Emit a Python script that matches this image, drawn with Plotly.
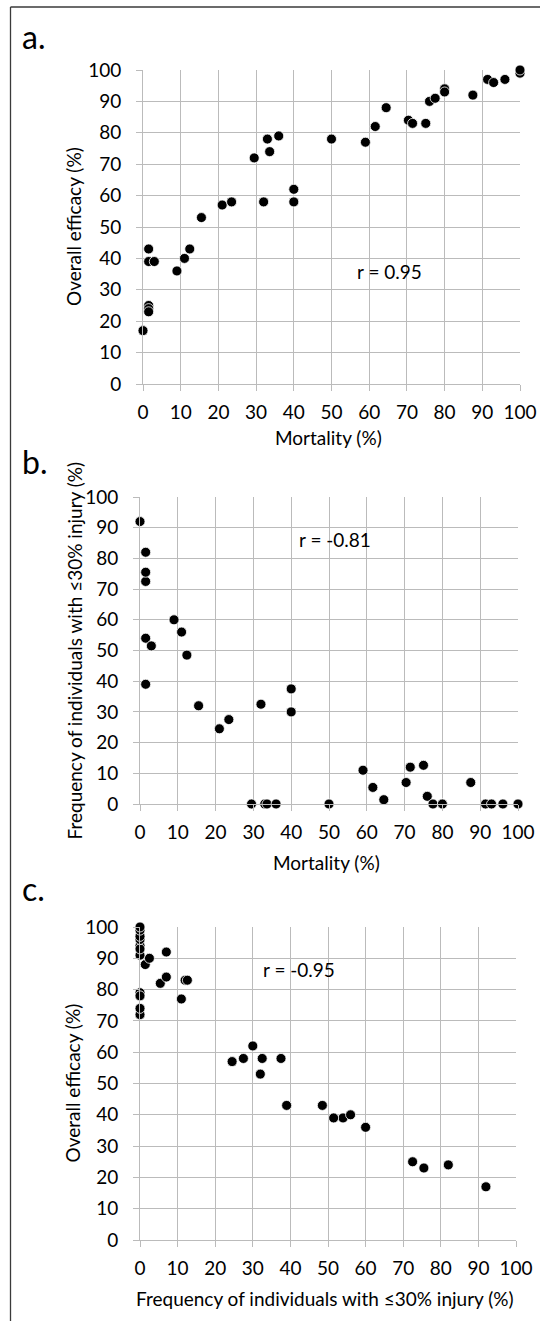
import plotly.graph_objects as go

# Data
mortality = [0, 1.5, 1.5, 3, 1.5, 1.5, 1.5, 9, 11, 12.4, 15.5, 21, 23.5, 29.5, 32, 33, 33.6, 36,
             40, 40, 50, 59, 61.6, 64.5, 70.4, 71.5, 75, 76, 77.5, 80, 80, 87.5, 91.4, 93, 96, 100, 100]
efficacy = [17, 43, 39, 39, 25, 24, 23, 36, 40, 43, 53, 57, 58, 72, 58, 78, 74, 79,
            62, 58, 78, 77, 82, 88, 84, 83, 83, 90, 91, 94, 93, 92, 97, 96, 97, 99, 100]
low_injury = [92, 39, 54, 51.5, 72.5, 82, 75.5, 60, 56, 48.5, 32, 24.5, 27.5, 0, 32.5, 0, 0, 0,
              30, 37.5, 0, 11, 5.4, 1.4, 7, 12, 12.6, 2.5, 0, 0, 0, 7, 0, 0, 0, 0, 0]

tick_vals = [0, 10, 20, 30, 40, 50, 60, 70, 80, 90, 100]
tick_text = [str(v) for v in tick_vals]

r_labels = ["r = 0.95", "r = -0.81", "r = -0.95"]
panel_labels = ["a.", "b.", "c."]
x_titles = ["Mortality (%)", "Mortality (%)", "Frequency of individuals with \u226430% injury (%)"]
y_titles = ["Overall efficacy (%)", "Frequency of individuals with \u226430% injury (%)", "Overall efficacy (%)"]

W, H = 540, 1321
FONT = "Lato"
FS = 19
GRID = "#BBBBBB"

def px_x(p):
    return p / W

def px_y(p):
    return 1 - p / H

# panel pixel boxes: (x0, x1, ytop, ybottom)
boxes = [(143, 520, 70, 384), (140, 518, 497, 804), (140, 516, 927, 1240)]
xtitle_off = [54, 59, 58]
ytitle_x = [73, 74, 72]
label_y = [36, 461, 888]
r_pos = [(65.3, 35.7), (51.6, 86), (42.3, 86.3)]

fig = go.Figure()
series = [(mortality, efficacy), (mortality, low_injury), (low_injury, efficacy)]
for i, (xs, ys) in enumerate(series):
    sfx = "" if i == 0 else str(i + 1)
    fig.add_trace(go.Scatter(
        x=xs, y=ys, mode="markers", xaxis="x" + sfx, yaxis="y" + sfx,
        marker=dict(color="black", size=10, line=dict(color="white", width=0.8)),
        cliponaxis=False, showlegend=False, hoverinfo="x+y"))

layout = dict(
    width=W, height=H, margin=dict(l=0, r=0, t=0, b=0),
    paper_bgcolor="white", plot_bgcolor="white",
    font=dict(family=FONT, size=FS, color="black"),
    showlegend=False,
)

axis_common = dict(range=[0, 100], tickvals=tick_vals, ticktext=tick_text,
                   showgrid=True, gridcolor=GRID, gridwidth=1,
                   showline=True, linecolor=GRID, linewidth=1,
                   ticks="outside", ticklen=6, tickcolor=GRID, tickwidth=1,
                   zeroline=False, automargin=False, ticklabeloverflow="allow",
                   tickfont=dict(family=FONT, size=FS, color="black"))

annotations = []
for i, (x0, x1, yt, yb) in enumerate(boxes):
    sfx = "" if i == 0 else str(i + 1)
    layout["xaxis" + sfx] = dict(axis_common, domain=[px_x(x0), px_x(x1)],
                                 anchor="y" + sfx, ticklabelstandoff=5)
    layout["yaxis" + sfx] = dict(axis_common, domain=[px_y(yb), px_y(yt)],
                                 anchor="x" + sfx, ticklabelstandoff=11)
    annotations.append(dict(text=r_labels[i], x=r_pos[i][0], y=r_pos[i][1],
                            xref="x" + sfx, yref="y" + sfx, showarrow=False,
                            font=dict(family=FONT, size=FS, color="black")))
    annotations.append(dict(text=x_titles[i], x=px_x((x0 + x1) / 2 - 3), y=px_y(yb + xtitle_off[i]),
                            xref="paper", yref="paper", showarrow=False,
                            xanchor="center", yanchor="middle",
                            font=dict(family=FONT, size=FS, color="black")))
    annotations.append(dict(text=y_titles[i], x=px_x(ytitle_x[i]), y=px_y((yt + yb) / 2),
                            xref="paper", yref="paper", showarrow=False, textangle=-90,
                            xanchor="center", yanchor="middle",
                            font=dict(family=FONT, size=FS, color="black")))

for i, lab in enumerate(panel_labels):
    annotations.append(dict(text=lab, x=px_x(20), y=px_y(label_y[i]), xref="paper", yref="paper",
                            showarrow=False, xanchor="left", yanchor="middle",
                            font=dict(family=FONT, size=32, color="black")))

layout["annotations"] = annotations
layout["shapes"] = [
    dict(type="line", xref="paper", yref="paper", x0=px_x(10.5), x1=1.0,
         y0=px_y(7), y1=px_y(7), line=dict(color="#3a3a3a", width=1.3)),
    dict(type="line", xref="paper", yref="paper", x0=px_x(10.5), x1=px_x(10.5),
         y0=px_y(7), y1=0, line=dict(color="#3a3a3a", width=1.3)),
]

fig.update_layout(**layout)
fig.write_html("out.html", config={"displayModeBar": False},
               post_script="document.body.style.margin='0';document.body.style.overflow='hidden';")
